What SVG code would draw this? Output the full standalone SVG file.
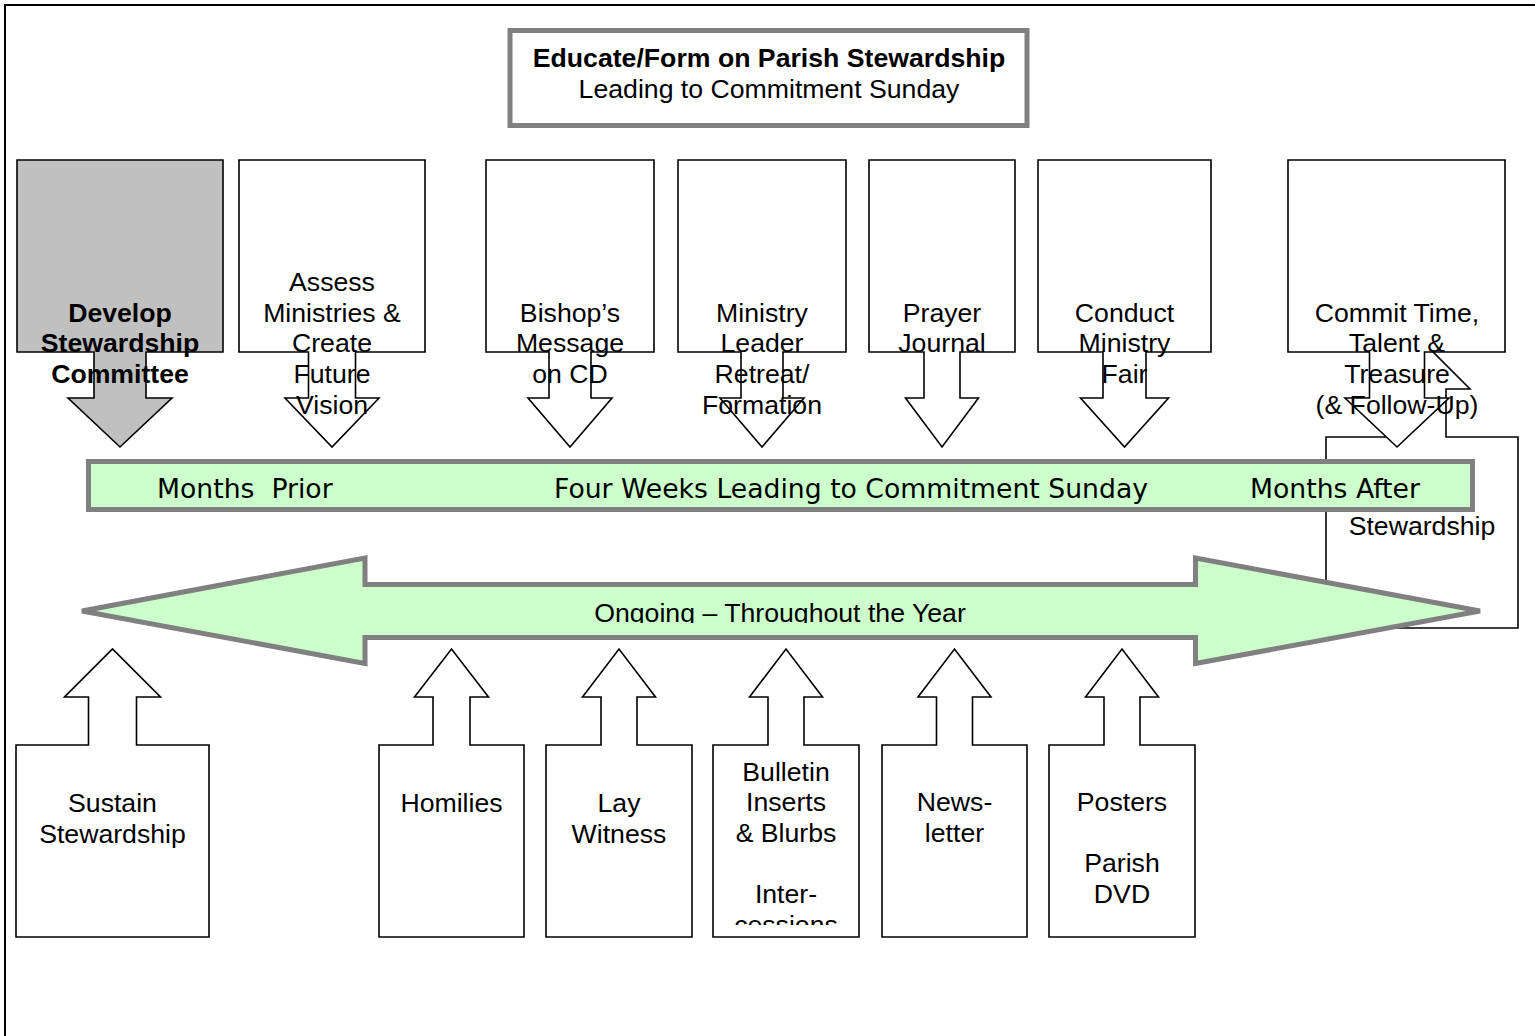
<svg xmlns="http://www.w3.org/2000/svg" width="1535" height="1036" viewBox="0 0 1535 1036">
<style>
.co{fill:#ffffff;stroke:#000000;stroke-width:1.6;stroke-linejoin:miter}
.gray{fill:#c0c0c0}
.t{font-family:"Liberation Sans",Arial,sans-serif;font-size:26.67px;fill:#000;text-anchor:middle}
.b{font-weight:bold}
.v{font-family:"DejaVu Sans",Verdana,sans-serif;font-size:26.67px;fill:#000;white-space:pre}
.green{fill:#ccffcc;stroke:#808080;stroke-width:5}
</style>
<defs>
<clipPath id="clipOngoing"><rect x="80" y="585" width="1400" height="38"/></clipPath>
<clipPath id="clipBulletin"><rect x="713" y="745" width="146" height="180"/></clipPath>
</defs>
<rect x="0" y="0" width="1535" height="1036" fill="#ffffff"/>
<rect x="5" y="5" width="1545" height="1045" fill="none" stroke="#000" stroke-width="2"/>

<g id="title">
<rect x="510" y="30.5" width="517" height="95" fill="#fff" stroke="#808080" stroke-width="5"/>
<text class="t b" x="769" y="67">Educate/Form on Parish Stewardship</text>
<text class="t" x="769" y="98">Leading to Commitment Sunday</text>
</g>

<g id="sustain-right">
<path class="co" d="M1326,437 H1398 V389 H1374 L1422,341 L1470,389 H1446 V437 H1518 V628 H1326 Z"/>
<text class="t" x="1422" y="535">Stewardship</text>
</g>

<g id="develop">
<path class="co gray" d="M17,160 H223 V352 H146 V398 H172 L120,447 L68,398 H94 V352 H17 Z"/>
<text class="t b" x="120" y="322">Develop</text>
<text class="t b" x="120" y="352">Stewardship</text>
<text class="t b" x="120" y="383">Committee</text>
</g>

<g id="assess">
<path class="co" d="M239,160 H425 V352 H355.5 V398 H379 L332,447 L285,398 H308.5 V352 H239 Z"/>
<text class="t" x="332" y="291">Assess</text>
<text class="t" x="332" y="322">Ministries &amp;</text>
<text class="t" x="332" y="352">Create</text>
<text class="t" x="332" y="383">Future</text>
<text class="t" x="332" y="414">Vision</text>
</g>

<g id="bishop">
<path class="co" d="M486,160 H654 V352 H591 V398 H612 L570,447 L528,398 H549 V352 H486 Z"/>
<text class="t" x="570" y="322">Bishop’s</text>
<text class="t" x="570" y="352">Message</text>
<text class="t" x="570" y="383">on CD</text>
</g>

<g id="ministry">
<path class="co" d="M678,160 H846 V352 H783 V398 H804 L762,447 L720,398 H741 V352 H678 Z"/>
<text class="t" x="762" y="322">Ministry</text>
<text class="t" x="762" y="352">Leader</text>
<text class="t" x="762" y="383">Retreat/</text>
<text class="t" x="762" y="414">Formation</text>
</g>

<g id="prayer">
<path class="co" d="M869,160 H1015 V352 H960 V398 H978.5 L942,447 L905.5,398 H924 V352 H869 Z"/>
<text class="t" x="942" y="322">Prayer</text>
<text class="t" x="942" y="352">Journal</text>
</g>

<g id="conduct">
<path class="co" d="M1038,160 H1211 V352 H1146 V398 H1168.5 L1124.5,447 L1080.5,398 H1103 V352 H1038 Z"/>
<text class="t" x="1124.5" y="322">Conduct</text>
<text class="t" x="1124.5" y="352">Ministry</text>
<text class="t" x="1124.5" y="383">Fair</text>
</g>

<g id="commit">
<path class="co" d="M1288,160 H1505 V352 H1424.5 V398 H1449 L1397,447 L1345,398 H1369.5 V352 H1288 Z"/>
<text class="t" x="1397" y="322">Commit Time,</text>
<text class="t" x="1397" y="352">Talent &amp;</text>
<text class="t" x="1397" y="383">Treasure</text>
<text class="t" x="1397" y="414">(&amp; Follow-Up)</text>
</g>

<g id="timeline-band">
<rect class="green" x="88.5" y="461.5" width="1384" height="48"/>
<text class="v" x="157" y="498">Months  Prior</text>
<text class="v" x="554" y="498">Four Weeks Leading to Commitment Sunday</text>
<text class="v" x="1250" y="498">Months After</text>
</g>

<g id="ongoing-arrow">
<path class="green" d="M82,611 L365,558 V584.5 H1195.5 V558 L1480,611 L1195.5,663.5 V637.5 H365 V663.5 Z"/>
<text class="t" x="780" y="622" clip-path="url(#clipOngoing)">Ongoing – Throughout the Year</text>
</g>

<g id="sustain">
<path class="co" d="M16,745 H88.5 V697 H64.5 L112.5,649 L160.5,697 H136.5 V745 H209 V937 H16 Z"/>
<text class="t" x="112.5" y="812">Sustain</text>
<text class="t" x="112.5" y="843">Stewardship</text>
</g>

<g id="homilies">
<path class="co" d="M379,745 H433 V697 H414.5 L451.5,649 L488.5,697 H470 V745 H524 V937 H379 Z"/>
<text class="t" x="451.5" y="812">Homilies</text>
</g>

<g id="lay-witness">
<path class="co" d="M546,745 H601 V697 H582.5 L619,649 L655.5,697 H637 V745 H692 V937 H546 Z"/>
<text class="t" x="619" y="812">Lay</text>
<text class="t" x="619" y="843">Witness</text>
</g>

<g id="bulletin">
<path class="co" d="M713,745 H768 V697 H749.5 L786,649 L822.5,697 H804 V745 H859 V937 H713 Z"/>
<g clip-path="url(#clipBulletin)">
<text class="t" x="786" y="781">Bulletin</text>
<text class="t" x="786" y="811">Inserts</text>
<text class="t" x="786" y="842">&amp; Blurbs</text>
<text class="t" x="786" y="903">Inter-</text>
<text class="t" x="786" y="934">cessions</text>
</g>
</g>

<g id="newsletter">
<path class="co" d="M882,745 H936.5 V697 H918 L954.5,649 L991,697 H972.5 V745 H1027 V937 H882 Z"/>
<text class="t" x="954.5" y="811">News-</text>
<text class="t" x="954.5" y="842">letter</text>
</g>

<g id="posters">
<path class="co" d="M1049,745 H1104 V697 H1085.5 L1122,649 L1158.5,697 H1140 V745 H1195 V937 H1049 Z"/>
<text class="t" x="1122" y="811">Posters</text>
<text class="t" x="1122" y="872">Parish</text>
<text class="t" x="1122" y="903">DVD</text>
</g>

<g id="connectors"></g>
</svg>
